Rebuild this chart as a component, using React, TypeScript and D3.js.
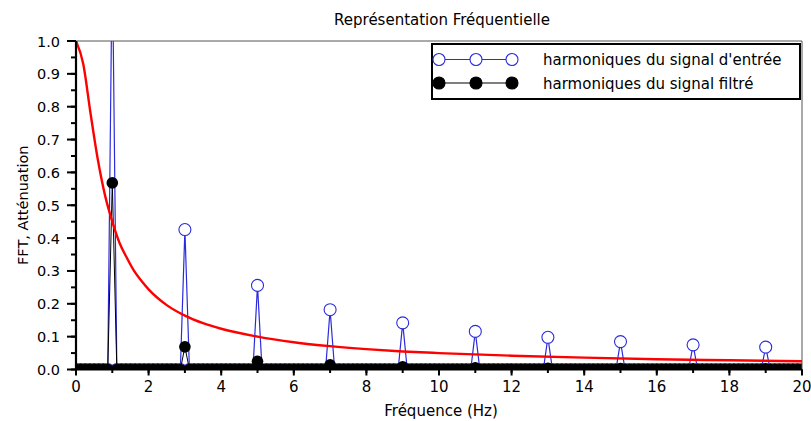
import React, { useEffect, useRef } from 'react';
import * as d3 from 'd3';

// harmonics of the square input signal and after the low-pass filter
const harmonics = [1, 3, 5, 7, 9, 11, 13, 15, 17, 19];
const inputAmp = [1.27, 0.426, 0.256, 0.182, 0.142, 0.116, 0.098, 0.085, 0.075, 0.068];
const filteredAmp = [0.568, 0.069, 0.025, 0.014, 0.008, 0.005, 0.004, 0.003, 0.002, 0.002];
const freqStep = 0.125; // FFT resolution (Hz)
const freqMax = 20;

// filter attenuation curve
const attFreq = [0, 0.2, 0.4, 0.6, 0.8, 1, 1.2, 1.4, 1.6, 1.8, 2, 2.5, 3, 3.5, 4, 5, 6, 7, 8, 9, 10, 12, 14, 16, 18, 20];
const attValue = [1.0, 0.93, 0.78, 0.64, 0.53, 0.45, 0.385, 0.34, 0.3, 0.27, 0.244, 0.196, 0.164, 0.141, 0.124, 0.1, 0.083, 0.071, 0.062, 0.055, 0.05, 0.042, 0.036, 0.031, 0.028, 0.025];

const xTicks = [0, 2, 4, 6, 8, 10, 12, 14, 16, 18, 20];
const yTicks = [0, 0.1, 0.2, 0.3, 0.4, 0.5, 0.6, 0.7, 0.8, 0.9, 1.0];
const legendLabels = ["harmoniques du signal d'entrée", 'harmoniques du signal filtré'];

const W = 811, H = 421;
const FONT = 'DejaVu Sans, sans-serif';
const BLUE = '#2b2bdc';

function spectrum(amps: number[]): [number, number][] {
  const n = Math.round(freqMax / freqStep);
  return d3.range(n + 1).map(i => {
    const f = i * freqStep;
    const k = harmonics.findIndex(h => Math.abs(h - f) < 1e-9);
    return [f, k >= 0 ? amps[k] : 0] as [number, number];
  });
}

export default function App() {
  const ref = useRef<SVGSVGElement>(null);

  useEffect(() => {
    const svg = d3.select(ref.current);
    svg.selectAll('*').remove();

    const left = 76, right = 802, top = 41, bottom = 369.5;
    const x = d3.scaleLinear().domain([0, freqMax]).range([left, right]);
    const y = d3.scaleLinear().domain([0, 1]).range([bottom, top]);

    svg.append('rect').attr('width', W).attr('height', H).attr('fill', 'white');

    svg.append('defs').append('clipPath').attr('id', 'plot-clip')
      .append('rect').attr('x', left).attr('y', top).attr('width', right - left).attr('height', bottom - top);

    const plot = svg.append('g').attr('clip-path', 'url(#plot-clip)');
    const line = d3.line<[number, number]>().x(d => x(d[0])).y(d => y(d[1]));

    // input signal
    const inData = spectrum(inputAmp);
    plot.append('path').datum(inData).attr('d', line)
      .attr('fill', 'none').attr('stroke', BLUE).attr('stroke-width', 1.2);
    plot.append('g').selectAll('circle').data(inData).join('circle')
      .attr('cx', d => x(d[0])).attr('cy', d => y(d[1])).attr('r', 6)
      .attr('fill', 'white').attr('stroke', BLUE).attr('stroke-width', 1.1);

    // filtered signal
    const outData = spectrum(filteredAmp);
    plot.append('path').datum(outData).attr('d', line)
      .attr('fill', 'none').attr('stroke', 'black').attr('stroke-width', 1);
    plot.append('g').selectAll('circle').data(outData).join('circle')
      .attr('cx', d => x(d[0])).attr('cy', d => y(d[1])).attr('r', 5.8)
      .attr('fill', 'black');

    // attenuation
    const att = attFreq.map((f, i) => [f, attValue[i]] as [number, number]);
    const smooth = d3.line<[number, number]>().x(d => x(d[0])).y(d => y(d[1])).curve(d3.curveMonotoneX);
    plot.append('path').datum(att).attr('d', smooth)
      .attr('fill', 'none').attr('stroke', '#ff0000').attr('stroke-width', 2.4);

    // box
    svg.append('line').attr('x1', left).attr('x2', right).attr('y1', top).attr('y2', top)
      .attr('stroke', '#555').attr('stroke-width', 1);
    svg.append('line').attr('x1', right).attr('x2', right).attr('y1', top).attr('y2', bottom)
      .attr('stroke', '#555').attr('stroke-width', 1);

    // y axis
    const yAxis = svg.append('g');
    yAxis.append('line').attr('x1', left).attr('x2', left).attr('y1', top).attr('y2', bottom + 1)
      .attr('stroke', 'black').attr('stroke-width', 2.2);
    yAxis.selectAll('.ymin').data(d3.range(21).map(i => i * 0.05)).join('line')
      .attr('x1', left - 5).attr('x2', left).attr('y1', d => y(d)).attr('y2', d => y(d))
      .attr('stroke', 'black').attr('stroke-width', 2);
    yAxis.selectAll('.ymaj').data(yTicks).join('g').each(function (d) {
      const g = d3.select(this);
      g.append('line').attr('x1', left - 9).attr('x2', left).attr('y1', y(d)).attr('y2', y(d))
        .attr('stroke', 'black').attr('stroke-width', 2);
      g.append('text').attr('x', 60).attr('y', y(d) + 5.5).attr('text-anchor', 'end')
        .style('font-family', FONT).style('font-size', '14.5px').text(d3.format('.1f')(d));
    });

    // x axis
    const xAxis = svg.append('g');
    xAxis.append('line').attr('x1', left - 1).attr('x2', right).attr('y1', bottom).attr('y2', bottom)
      .attr('stroke', 'black').attr('stroke-width', 2.2);
    xAxis.selectAll('.xmin').data(d3.range(freqMax + 1)).join('line')
      .attr('x1', d => x(d)).attr('x2', d => x(d)).attr('y1', bottom).attr('y2', bottom + 3.5)
      .attr('stroke', 'black').attr('stroke-width', 2);
    xAxis.selectAll('.xmaj').data(xTicks).join('g').each(function (d) {
      const g = d3.select(this);
      g.append('line').attr('x1', x(d)).attr('x2', x(d)).attr('y1', bottom).attr('y2', bottom + 6)
        .attr('stroke', 'black').attr('stroke-width', 2);
      g.append('text').attr('x', x(d)).attr('y', 392).attr('text-anchor', 'middle')
        .style('font-family', FONT).style('font-size', '15px').text(String(d));
    });

    // titles
    svg.append('text').attr('x', 442).attr('y', 25).attr('text-anchor', 'middle')
      .style('font-family', FONT).style('font-size', '15px').text('Représentation Fréquentielle');
    svg.append('text').attr('x', 441).attr('y', 416).attr('text-anchor', 'middle')
      .style('font-family', FONT).style('font-size', '15px').text('Fréquence (Hz)');
    svg.append('text').attr('transform', `translate(28, ${(top + bottom) / 2}) rotate(-90)`)
      .attr('text-anchor', 'middle')
      .style('font-family', FONT).style('font-size', '14.5px').text('FFT, Atténuation');

    // legend
    const lg = svg.append('g');
    lg.append('rect').attr('x', 432).attr('y', 44).attr('width', 368).attr('height', 55)
      .attr('fill', 'white').attr('stroke', 'black').attr('stroke-width', 2);
    const rows = [
      { label: legendLabels[0], stroke: BLUE, fill: 'white', cy: 59.5 },
      { label: legendLabels[1], stroke: 'black', fill: 'black', cy: 83 },
    ];
    const mx = [439, 476, 512];
    rows.forEach(r => {
      lg.append('line').attr('x1', mx[0]).attr('x2', mx[2]).attr('y1', r.cy).attr('y2', r.cy)
        .attr('stroke', r.stroke).attr('stroke-width', 1.1);
      mx.forEach(cx => {
        lg.append('circle').attr('cx', cx).attr('cy', r.cy).attr('r', 6)
          .attr('fill', r.fill).attr('stroke', r.stroke).attr('stroke-width', 1.1);
      });
      lg.append('text').attr('x', 543).attr('y', r.cy + 5.5)
        .style('font-family', FONT).style('font-size', '15px').text(r.label);
    });
  }, []);

  return (
    <svg ref={ref} width={W} height={H} style={{ position: 'absolute', left: 0, top: 0, display: 'block' }} />
  );
}
